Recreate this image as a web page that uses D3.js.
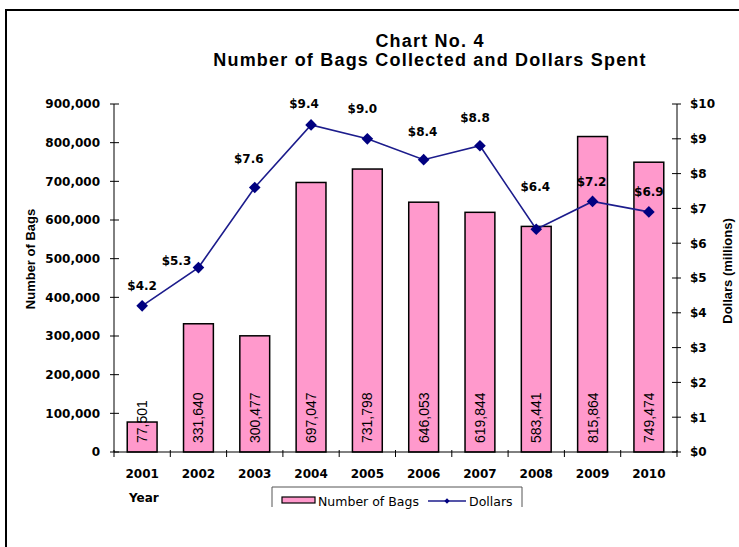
<!DOCTYPE html>
<html>
<head>
<meta charset="utf-8">
<script src="https://cdn.jsdelivr.net/npm/d3@7/dist/d3.min.js"></script>
<style>
  body { margin: 0; background: #fff; }
  svg { display: block; }
</style>
</head>
<body>
<div id="chart"></div>
<script>
// data
var years = ['2001','2002','2003','2004','2005','2006','2007','2008','2009','2010'];
var bags = [77501, 331640, 300477, 697047, 731798, 646053, 619844, 583441, 815864, 749474];
var dollars = [4.2, 5.3, 7.6, 9.4, 9.0, 8.4, 8.8, 6.4, 7.2, 6.9];
var bagTicks = [0,100000,200000,300000,400000,500000,600000,700000,800000,900000];
var dollarTicks = [0,1,2,3,4,5,6,7,8,9,10];
// label nudges (dx, dy from point) as placed in the original
var labelDx = [0, -22, -6, -7, -5, -1, -5, -1, -1, 0];
var labelDy = [-16, -3, -25, -17, -26, -24, -24, -38, -15, -16];

var W = 739, H = 547;
var plotL = 114, plotR = 677, plotT = 104, plotB = 452;

var svg = d3.select('#chart').append('svg')
  .attr('width', W).attr('height', H);

// frame
svg.append('rect')
  .attr('x', 6).attr('y', 10).attr('width', 800).attr('height', 600)
  .style('fill', 'none').style('stroke', '#000').style('stroke-width', 2);

// scales
var x = d3.scaleBand().domain(years).range([plotL, plotR])
  .paddingInner(0.47).paddingOuter(0.235);
var yBags = d3.scaleLinear().domain([0, 900000]).range([plotB, plotT]);
var yDol = d3.scaleLinear().domain([0, 10]).range([plotB, plotT]);

var boldFont = "'DejaVu Sans', sans-serif";
var arial = "'Liberation Sans', Arial, sans-serif";

// title
svg.append('text').attr('x', 430).attr('y', 47)
  .attr('text-anchor', 'middle')
  .style('font', 'bold 18px ' + arial).style('letter-spacing', '1.2px')
  .text('Chart No. 4');
svg.append('text').attr('x', 430).attr('y', 66)
  .attr('text-anchor', 'middle')
  .style('font', 'bold 18px ' + arial).style('letter-spacing', '1.2px')
  .text('Number of Bags Collected and Dollars Spent');

// bars
svg.selectAll('.bar')
  .data(bags)
  .enter().append('rect')
  .attr('class', 'bar')
  .attr('x', function(d, i) { return x(years[i]); })
  .attr('y', function(d) { return yBags(d); })
  .attr('width', x.bandwidth())
  .attr('height', function(d) { return plotB - yBags(d); })
  .style('fill', '#ff99cc')
  .style('stroke', '#000')
  .style('stroke-width', 1.5);

// bar value labels (vertical)
svg.selectAll('.barlabel')
  .data(bags)
  .enter().append('text')
  .attr('class', 'barlabel')
  .attr('transform', function(d, i) {
    return 'translate(' + (x(years[i]) + x.bandwidth() / 2 + 5) + ',' + (plotB - 9) + ') rotate(-90)';
  })
  .style('font', '14px ' + arial)
  .style('fill', '#000')
  .text(function(d) { return d3.format(',')(d); });

// left axis
var gl = svg.append('g');
gl.append('line').attr('x1', plotL).attr('x2', plotL).attr('y1', plotT).attr('y2', plotB)
  .style('stroke', '#000');
gl.selectAll('.lt').data(bagTicks).enter().append('line')
  .attr('x1', plotL - 4).attr('x2', plotL + 5)
  .attr('y1', function(d) { return yBags(d); }).attr('y2', function(d) { return yBags(d); })
  .style('stroke', '#000');
gl.selectAll('.ll').data(bagTicks).enter().append('text')
  .attr('x', 100).attr('y', function(d) { return yBags(d); })
  .attr('dy', '0.36em').attr('text-anchor', 'end')
  .style('font', 'bold 12px ' + boldFont)
  .text(function(d) { return d3.format(',')(d); });

// right axis
var gr = svg.append('g');
gr.append('line').attr('x1', plotR).attr('x2', plotR).attr('y1', plotT).attr('y2', plotB)
  .style('stroke', '#000');
gr.selectAll('.rt').data(dollarTicks).enter().append('line')
  .attr('x1', plotR - 5).attr('x2', plotR + 4)
  .attr('y1', function(d) { return yDol(d); }).attr('y2', function(d) { return yDol(d); })
  .style('stroke', '#000');
gr.selectAll('.rl').data(dollarTicks).enter().append('text')
  .attr('x', 690).attr('y', function(d) { return yDol(d); })
  .attr('dy', '0.36em')
  .style('font', 'bold 12px ' + boldFont)
  .text(function(d) { return '$' + d; });

// x axis
var gx = svg.append('g');
gx.append('line').attr('x1', plotL).attr('x2', plotR).attr('y1', plotB).attr('y2', plotB)
  .style('stroke', '#000');
var step = x.step();
gx.selectAll('.xt').data(d3.range(years.length + 1)).enter().append('line')
  .attr('x1', function(i) { return plotL + i * step; })
  .attr('x2', function(i) { return plotL + i * step; })
  .attr('y1', plotB - 2).attr('y2', plotB + 5)
  .style('stroke', '#000');
gx.selectAll('.xl').data(years).enter().append('text')
  .attr('x', function(d) { return x(d) + x.bandwidth() / 2; })
  .attr('y', 478).attr('text-anchor', 'middle')
  .style('font', 'bold 12px ' + boldFont)
  .text(function(d) { return d; });

// axis titles
svg.append('text').attr('x', 129).attr('y', 502)
  .style('font', 'bold 12px ' + boldFont).text('Year');
svg.append('text')
  .attr('transform', 'translate(35,259) rotate(-90)')
  .attr('text-anchor', 'middle')
  .style('font', 'bold 13px ' + arial)
  .text('Number of Bags');
svg.append('text')
  .attr('transform', 'translate(732,271) rotate(-90)')
  .attr('text-anchor', 'middle')
  .style('font', 'bold 13px ' + arial)
  .text('Dollars (millions)');

// dollars line
var line = d3.line()
  .x(function(d, i) { return x(years[i]) + x.bandwidth() / 2; })
  .y(function(d) { return yDol(d); });
svg.append('path').datum(dollars)
  .attr('d', line)
  .style('fill', 'none').style('stroke', '#1c1c8c').style('stroke-width', 1.6);

var diamond = d3.symbol().type(d3.symbolSquare).size(68);
svg.selectAll('.pt').data(dollars).enter().append('path')
  .attr('d', diamond)
  .attr('transform', function(d, i) {
    return 'translate(' + (x(years[i]) + x.bandwidth() / 2) + ',' + yDol(d) + ') rotate(45)';
  })
  .style('fill', '#000080');

svg.selectAll('.pl').data(dollars).enter().append('text')
  .attr('x', function(d, i) { return x(years[i]) + x.bandwidth() / 2 + labelDx[i]; })
  .attr('y', function(d, i) { return yDol(d) + labelDy[i]; })
  .attr('text-anchor', 'middle')
  .style('font', 'bold 12px ' + boldFont)
  .text(function(d) { return '$' + d.toFixed(1); });

// legend
var lg = svg.append('g');
lg.append('path').attr('d', 'M272,507 V487 H522 V507')
  .style('fill', 'none').style('stroke', '#555').style('stroke-width', 1);
lg.append('rect').attr('x', 282).attr('y', 497).attr('width', 33).attr('height', 6)
  .style('fill', '#ff99cc').style('stroke', '#000').style('stroke-width', 1.2);
lg.append('text').attr('x', 318).attr('y', 506)
  .style('font', '12.5px ' + boldFont).text('Number of Bags');
lg.append('line').attr('x1', 428).attr('x2', 466).attr('y1', 501).attr('y2', 501)
  .style('stroke', '#1c1c8c').style('stroke-width', 1.6);
lg.append('path').attr('d', d3.symbol().type(d3.symbolSquare).size(14))
  .attr('transform', 'translate(447,501) rotate(45)')
  .style('fill', '#000080');
lg.append('text').attr('x', 469).attr('y', 506)
  .style('font', '12.5px ' + boldFont).text('Dollars');
</script>
</body>
</html>
